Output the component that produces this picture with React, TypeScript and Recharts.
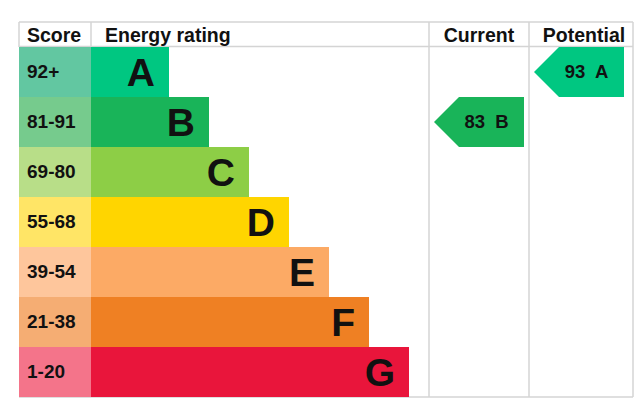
import { Bar, BarChart, Cell, LabelList, XAxis, YAxis } from "recharts";

const bands = ["A", "B", "C", "D", "E", "F", "G"];
const scoreRanges = ["92+", "81-91", "69-80", "55-68", "39-54", "21-38", "1-20"];
const barLengths = [1.95, 2.95, 3.95, 4.95, 5.95, 6.95, 7.95];
const barColors = ["#00c781", "#19b459", "#8dce46", "#ffd500", "#fcaa65", "#ef8023", "#e9153b"];
const scoreColors = ["#62c7a1", "#76cb8d", "#b8de88", "#ffe566", "#fec69c", "#f5ad73", "#f4748a"];

const currentScore = 83;
const currentBand = "B";
const potentialScore = 93;
const potentialBand = "A";

const data = bands.map((band, i) => ({
  band,
  score: scoreRanges[i],
  length: barLengths[i],
  current: band === currentBand ? currentScore : null,
  potential: band === potentialBand ? potentialScore : null,
}));

const FONT = "'Liberation Sans', Arial, sans-serif";
const GRID = "#d4d4d4";
const ROW = 50;
// table columns (x in px)
const LEFT = 19;
const SCORE_END = 91;
const CUR_X = 429;
const POT_X = 529;
const RIGHT = 633;
const TOP = 22;
const HEAD_END = 47;
const BOTTOM = 397;
const ARROW_W = 90;

function ScoreTick(props: any) {
  const { y, payload } = props;
  const i = scoreRanges.indexOf(payload.value);
  return (
    <g>
      <rect x={LEFT} y={y - ROW / 2} width={SCORE_END - LEFT} height={ROW} fill={scoreColors[i]} />
      <text x={27} y={y + 6} fontFamily={FONT} fontWeight="bold" fontSize={19} fill="#111">
        {payload.value}
      </text>
    </g>
  );
}

const renderLetter = (props: any) => {
  const { x, y, width, height, value } = props;
  return (
    <text
      x={x + width - 14}
      y={y + height / 2 + 14}
      textAnchor="end"
      fontFamily={FONT}
      fontWeight="bold"
      fontSize={39}
      fill="#111"
    >
      {value}
    </text>
  );
};

const makeArrow = (colStart: number) => (props: any) => {
  const { y, height, value, index } = props;
  if (value == null) return null;
  const tip = colStart + 5;
  const shoulder = tip + 25;
  const end = tip + ARROW_W;
  const cy = y + height / 2;
  const pts = `${tip},${cy} ${shoulder},${y} ${end},${y} ${end},${y + height} ${shoulder},${y + height}`;
  return (
    <g>
      <polygon points={pts} fill={barColors[index]} />
      <text
        x={(shoulder + end) / 2 - 5}
        y={cy + 6}
        textAnchor="middle"
        fontFamily={FONT}
        fontWeight="bold"
        fontSize={18.5}
        fill="#111"
        style={{ whiteSpace: "pre" }}
      >
        {`${value}  ${bands[index]}`}
      </text>
    </g>
  );
};

export default function App() {
  return (
    <div style={{ position: "absolute", left: 0, top: 0, width: 642, height: 407 }}>
      <svg width={642} height={407} style={{ position: "absolute", left: 0, top: 0 }}>
        <line x1={LEFT} x2={RIGHT} y1={TOP} y2={TOP} stroke={GRID} strokeWidth={1.5} />
        <line x1={LEFT} x2={RIGHT} y1={HEAD_END - 0.5} y2={HEAD_END - 0.5} stroke={GRID} strokeWidth={1.5} />
        <line x1={LEFT} x2={RIGHT} y1={BOTTOM} y2={BOTTOM} stroke={GRID} strokeWidth={1.5} />
        <line x1={LEFT} x2={LEFT} y1={TOP} y2={HEAD_END} stroke={GRID} strokeWidth={1.5} />
        <line x1={SCORE_END} x2={SCORE_END} y1={TOP} y2={HEAD_END} stroke={GRID} strokeWidth={1.5} />
        <line x1={CUR_X} x2={CUR_X} y1={TOP} y2={BOTTOM} stroke={GRID} strokeWidth={1.5} />
        <line x1={POT_X} x2={POT_X} y1={TOP} y2={BOTTOM} stroke={GRID} strokeWidth={1.5} />
        <line x1={RIGHT} x2={RIGHT} y1={TOP} y2={BOTTOM} stroke={GRID} strokeWidth={1.5} />
        <g fontFamily={FONT} fontWeight="bold" fontSize={19.5} fill="#111">
          <text x={27} y={42}>Score</text>
          <text x={105} y={42}>Energy rating</text>
          <text x={(CUR_X + POT_X) / 2} y={42} textAnchor="middle">Current</text>
          <text x={(POT_X + RIGHT) / 2 + 3} y={42} textAnchor="middle">Potential</text>
        </g>
      </svg>
      <div style={{ position: "absolute", left: 0, top: 0 }}>
        <BarChart
          layout="vertical"
          width={642}
          height={407}
          data={data}
          margin={{ top: HEAD_END, right: 642 - RIGHT, bottom: 407 - BOTTOM, left: LEFT }}
          barCategoryGap={0}
        >
          <XAxis type="number" domain={[0, 13.55]} hide />
          <YAxis
            type="category"
            dataKey="score"
            width={SCORE_END - LEFT}
            axisLine={false}
            tickLine={false}
            interval={0}
            tick={<ScoreTick />}
          />
          <Bar dataKey="length" isAnimationActive={false}>
            {data.map((d, i) => (
              <Cell key={d.band} fill={barColors[i]} />
            ))}
            <LabelList dataKey="band" content={renderLetter} />
            <LabelList dataKey="current" content={makeArrow(CUR_X)} />
            <LabelList dataKey="potential" content={makeArrow(POT_X)} />
          </Bar>
        </BarChart>
      </div>
    </div>
  );
}
